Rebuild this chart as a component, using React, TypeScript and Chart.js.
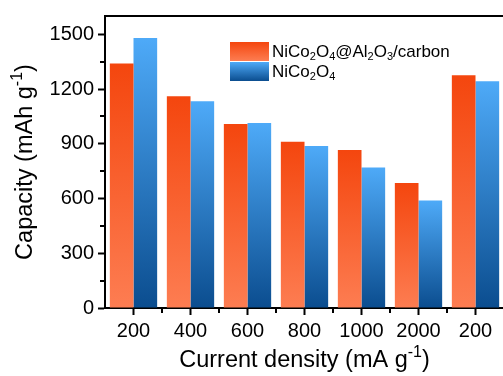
import React, { useEffect, useRef } from "react";
import { Chart, registerables } from "chart.js";

Chart.register(...registerables);

const categories = ["200", "400", "600", "800", "1000", "2000", "200"];
const compositeValues = [1340, 1160, 1008, 911, 866, 685, 1276];
const pristineValues = [1480, 1133, 1014, 888, 770, 589, 1243];
const yTickValues = [0, 300, 600, 900, 1200, 1500];
const yMinorTickValues = [150, 450, 750, 1050, 1350];
const compositeLabel = [
  { t: "NiCo" }, { t: "2", s: 1 }, { t: "O" }, { t: "4", s: 1 }, { t: "@Al" }, { t: "2", s: 1 },
  { t: "O" }, { t: "3", s: 1 }, { t: "/carbon" },
];
const pristineLabel = [{ t: "NiCo" }, { t: "2", s: 1 }, { t: "O" }, { t: "4", s: 1 }];
const yTitle = [{ t: "Capacity (mAh g" }, { t: "-1", s: -1 }, { t: ")" }];
const xTitle = [{ t: "Current density (mA g" }, { t: "-1", s: -1 }, { t: ")" }];

const FONT = "'Liberation Sans', Arial, sans-serif";
const ORANGE_TOP = "#f4460e";
const ORANGE_BOTTOM = "#fd7d52";
const BLUE_TOP = "#4eaaf8";
const BLUE_BOTTOM = "#0b4d8f";

const makeGradient = (top: string, bottom: string) => (ctx: any) => {
  const chart = ctx.chart;
  const ys = chart.scales && chart.scales.y;
  if (!ys || !chart.chartArea || ctx.type !== "data") return top;
  const v = ctx.parsed && ctx.parsed.y != null ? ctx.parsed.y : ctx.raw;
  const y0 = ys.getPixelForValue(v);
  const y1 = ys.getPixelForValue(0);
  if (!isFinite(y0) || !isFinite(y1) || y0 === y1) return top;
  const g = chart.ctx.createLinearGradient(0, y0, 0, y1);
  g.addColorStop(0, top);
  g.addColorStop(1, bottom);
  return g;
};

function drawRich(c: CanvasRenderingContext2D, segs: any[], x: number, y: number, size: number, align: string) {
  const small = Math.round(size * 0.66);
  let total = 0;
  segs.forEach((sg) => {
    c.font = `${sg.s ? small : size}px ${FONT}`;
    total += c.measureText(sg.t).width;
  });
  let cx = align === "center" ? x - total / 2 : x;
  c.textBaseline = "alphabetic";
  c.textAlign = "left";
  segs.forEach((sg) => {
    c.font = `${sg.s ? small : size}px ${FONT}`;
    let dy = 0;
    if (sg.s === 1) dy = size * 0.2;
    if (sg.s === -1) dy = -size * 0.42;
    c.fillText(sg.t, cx, y + dy);
    cx += c.measureText(sg.t).width;
  });
}

const decorPlugin = {
  id: "decor",
  afterDraw(chart: any) {
    const c: CanvasRenderingContext2D = chart.ctx;
    const area = chart.chartArea;
    const ys = chart.scales.y;
    const xs = chart.scales.x;
    c.save();
    c.strokeStyle = "#000";
    c.fillStyle = "#000";
    // top frame
    c.lineWidth = 2;
    c.beginPath();
    c.moveTo(area.left - 1, area.top);
    c.lineTo(area.right + 2, area.top);
    c.stroke();
    // minor y ticks
    yMinorTickValues.forEach((v) => {
      const py = Math.round(ys.getPixelForValue(v));
      c.beginPath();
      c.moveTo(area.left - 5, py);
      c.lineTo(area.left, py);
      c.stroke();
    });
    // minor x ticks at category boundaries
    for (let i = 1; i < categories.length; i++) {
      const px = Math.round((xs.getPixelForValue(i - 1) + xs.getPixelForValue(i)) / 2);
      c.beginPath();
      c.moveTo(px, area.bottom);
      c.lineTo(px, area.bottom + 5);
      c.stroke();
    }
    // legend
    const lx = 230, lw = 39, lh = 19;
    const rows = [
      { y: 42, top: ORANGE_TOP, bottom: ORANGE_BOTTOM, segs: compositeLabel },
      { y: 62, top: BLUE_TOP, bottom: BLUE_BOTTOM, segs: pristineLabel },
    ];
    rows.forEach((r) => {
      const g = c.createLinearGradient(0, r.y, 0, r.y + lh);
      g.addColorStop(0, r.top);
      g.addColorStop(1, r.bottom);
      c.fillStyle = g;
      c.fillRect(lx, r.y, lw, lh);
      c.fillStyle = "#000";
      drawRich(c, r.segs, lx + lw + 3, r.y + 15, 17, "left");
    });
    // x title
    drawRich(c, xTitle, (area.left + area.right) / 2, 367, 23.5, "center");
    // y title
    c.save();
    c.translate(32, (area.top + area.bottom) / 2);
    c.rotate(-Math.PI / 2);
    drawRich(c, yTitle, 0, 0, 23.5, "center");
    c.restore();
    c.restore();
  },
};

export default function App() {
  const ref = useRef<HTMLCanvasElement | null>(null);
  useEffect(() => {
    if (!ref.current) return;
    const chart = new Chart(ref.current, {
      type: "bar",
      data: {
        labels: categories,
        datasets: [
          {
            label: "NiCo2O4@Al2O3/carbon",
            data: compositeValues,
            backgroundColor: makeGradient(ORANGE_TOP, ORANGE_BOTTOM),
            borderWidth: 0,
            categoryPercentage: 0.83,
            barPercentage: 1,
          },
          {
            label: "NiCo2O4",
            data: pristineValues,
            backgroundColor: makeGradient(BLUE_TOP, BLUE_BOTTOM),
            borderWidth: 0,
            categoryPercentage: 0.83,
            barPercentage: 1,
          },
        ],
      },
      options: {
        animation: false,
        responsive: true,
        maintainAspectRatio: false,
        layout: { padding: { top: 12, left: 0, right: 1, bottom: 0 } },
        plugins: { legend: { display: false }, tooltip: { enabled: false } },
        scales: {
          x: {
            grid: {
              offset: false,
              drawOnChartArea: false,
              drawTicks: true,
              tickLength: 7,
              tickWidth: 2,
              tickColor: "#000",
            },
            border: { display: true, color: "#000", width: 2 },
            ticks: { color: "#000", font: { family: FONT, size: 20 }, padding: 4, maxRotation: 0, autoSkip: false },
            afterFit: (s: any) => {
              s.height = 68;
            },
          },
          y: {
            min: 0,
            max: 1600,
            grid: {
              drawOnChartArea: false,
              drawTicks: true,
              tickLength: 7,
              tickWidth: 2,
              tickColor: "#000",
            },
            border: { display: true, color: "#000", width: 2 },
            ticks: {
              color: "#000",
              font: { family: FONT, size: 20 },
              padding: 4,
              callback: (v: any) => String(v),
            },
            afterBuildTicks: (s: any) => {
              s.ticks = yTickValues.map((v) => ({ value: v }));
            },
            afterFit: (s: any) => {
              s.width = 105;
            },
          },
        },
      },
      plugins: [decorPlugin],
    });
    return () => chart.destroy();
  }, []);
  return (
    <div style={{ position: "fixed", left: 0, top: 0, width: 505, height: 376, overflow: "hidden", background: "#fff" }}>
      <canvas ref={ref} />
    </div>
  );
}
